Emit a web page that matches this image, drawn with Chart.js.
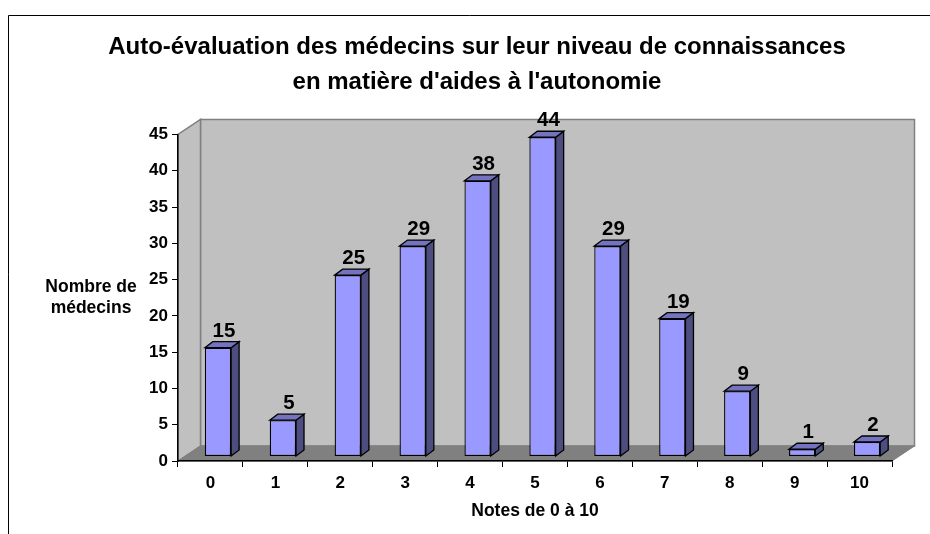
<!DOCTYPE html>
<html><head><meta charset="utf-8">
<style>html,body{margin:0;padding:0;background:#fff}canvas{display:block}</style>
<script src="https://cdn.jsdelivr.net/npm/chart.js@4"></script>
</head><body>
<canvas id="c" width="930" height="534"></canvas>
<script>
const categories = ['0','1','2','3','4','5','6','7','8','9','10'];
const values = [15,5,25,29,38,44,29,19,9,1,2];
const titleLines = ["Auto-évaluation des médecins sur leur niveau de connaissances","en matière d'aides à l'autonomie"];
const yTitleLines = ['Nombre de','médecins'];
const xTitle = 'Notes de 0 à 10';
const FONT = '"Liberation Sans", Arial, sans-serif';
const WALL = {dx:22.5, dy:15};
const BAR = {dx:8, dy:6, sx:7.5, sy:-4.5};

function poly(ctx, pts, fill, stroke, lw){
  ctx.beginPath();
  pts.forEach((p,i)=> i?ctx.lineTo(p[0],p[1]):ctx.moveTo(p[0],p[1]));
  ctx.closePath();
  ctx.fillStyle = fill; ctx.fill();
  if(stroke){ctx.strokeStyle = stroke; ctx.lineWidth = lw||1; ctx.stroke();}
}
const scene = {
  id:'scene',
  beforeDraw(chart){
    const {ctx, chartArea:a} = chart;
    const L=a.left,R=a.right,T=a.top,B=a.bottom,dx=WALL.dx,dy=WALL.dy;
    ctx.save();
    ctx.strokeStyle='#000'; ctx.lineWidth=1;
    ctx.beginPath(); ctx.moveTo(8.5,534); ctx.lineTo(8.5,15.5); ctx.lineTo(930,15.5); ctx.stroke();
    poly(ctx,[[L+dx,T-dy],[R+dx,T-dy],[R+dx,B-dy],[L+dx,B-dy]],'#C0C0C0','#808080',1.5);
    poly(ctx,[[L,T],[L+dx,T-dy],[L+dx,B-dy],[L,B]],'#C0C0C0','#808080',1.5);
    poly(ctx,[[L,B],[L+dx,B-dy],[R+dx,B-dy],[R,B]],'#808080','#808080');
    ctx.restore();
  },
  beforeDatasetDraw(chart){
    const {ctx} = chart;
    ctx.save();
    ctx.translate(BAR.sx,BAR.sy);
    chart.getDatasetMeta(0).data.forEach(b=>{
      const l=b.x-b.width/2, r=b.x+b.width/2, t=b.y, bt=b.base;
      poly(ctx,[[r,t],[r+BAR.dx,t-BAR.dy],[r+BAR.dx,bt-BAR.dy],[r,bt]],'#4D4D80','#000',1.3);
      poly(ctx,[[l,t],[l+BAR.dx,t-BAR.dy],[r+BAR.dx,t-BAR.dy],[r,t]],'#7373BF','#000',1.3);
    });
  },
  afterDatasetDraw(chart){
    const {ctx} = chart;
    ctx.restore();
    ctx.save();
    ctx.fillStyle='#000'; ctx.textAlign='center'; ctx.textBaseline='alphabetic';
    ctx.font='bold 20.5px '+FONT;
    chart.getDatasetMeta(0).data.forEach((b,i)=>{
      ctx.fillText(String(values[i]), b.x+BAR.sx+6, b.y+BAR.sy-11);
    });
    ctx.font='bold 17.5px '+FONT;
    yTitleLines.forEach((s,i)=>ctx.fillText(s,91,292+i*21));
    ctx.restore();
  }
};
new Chart(document.getElementById('c'),{
  type:'bar',
  data:{labels:categories,datasets:[{data:values,backgroundColor:'#9999FF',borderColor:'#000',borderWidth:1.3,borderSkipped:false,barPercentage:0.405,categoryPercentage:1}]},
  options:{
    responsive:false,animation:false,
    layout:{padding:{left:62,right:38,top:0,bottom:0}},
    plugins:{
      legend:{display:false},tooltip:{enabled:false},
      title:{display:true,text:titleLines,color:'#000',font:{family:FONT,size:24,weight:'bold',lineHeight:1.4583},padding:{top:29.5,bottom:35}}
    },
    scales:{
      x:{
        afterFit(s){s.height=73;},
        grid:{display:true,drawOnChartArea:false,drawTicks:true,tickLength:6,color:'#000',offset:true},
        border:{color:'#000',width:1.5},
        ticks:{color:'#000',font:{family:FONT,size:17,weight:'bold'},padding:6,maxRotation:0},
        title:{display:true,text:xTitle,color:'#000',font:{family:FONT,size:17.5,weight:'bold'},padding:{top:0,bottom:12}}
      },
      y:{
        min:0,max:45,
        afterFit(s){s.width=116;},
        grid:{display:true,drawOnChartArea:false,drawTicks:true,tickLength:6,color:'#000'},
        border:{color:'#000',width:1.5},
        ticks:{stepSize:5,color:'#000',font:{family:FONT,size:17,weight:'bold'},padding:4}
      }
    }
  },
  plugins:[scene]
});
</script>
</body></html>
